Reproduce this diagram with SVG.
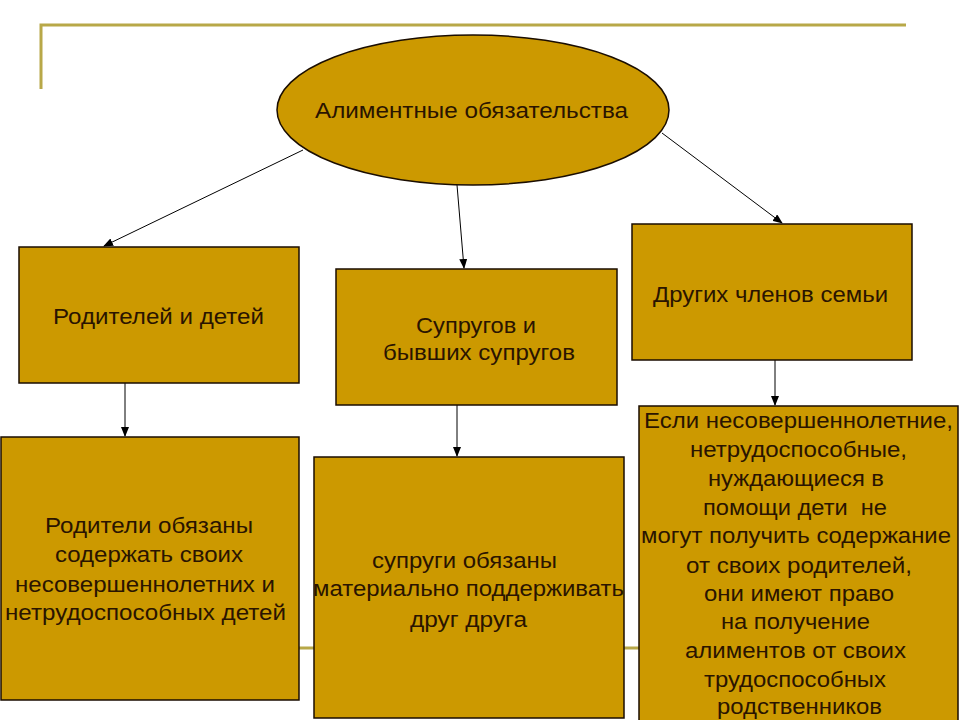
<svg xmlns="http://www.w3.org/2000/svg" width="960" height="720" viewBox="0 0 960 720">
<defs>
<style>
.box{fill:#CC9900;stroke:#1a0d00;stroke-width:1.5}
.t{font-family:"Liberation Sans",Arial,sans-serif;font-size:22px;fill:#2a1400}
.c{stroke:#000;stroke-width:1;fill:none}
.deco{stroke:#b8a848;stroke-width:3;fill:none}
</style>
<marker id="ah" markerWidth="10" markerHeight="8" refX="9" refY="4" orient="auto" markerUnits="userSpaceOnUse">
<path d="M0,0 L10,4 L0,8 Z" fill="#000"/>
</marker>
</defs>
<rect width="960" height="720" fill="#fff"/>
<g id="decor">
<path class="deco" d="M41,89 V25 H906"/>
<path class="deco" d="M41,648 H906"/>
</g>
<g id="connectors">
<line class="c" x1="303" y1="150" x2="104" y2="246" marker-end="url(#ah)"/>
<line class="c" x1="457" y1="185" x2="464" y2="268" marker-end="url(#ah)"/>
<line class="c" x1="662" y1="133" x2="782" y2="223" marker-end="url(#ah)"/>
<line class="c" x1="125" y1="383" x2="125" y2="436" marker-end="url(#ah)"/>
<line class="c" x1="457" y1="405" x2="457" y2="456" marker-end="url(#ah)"/>
<line class="c" x1="775" y1="360" x2="775" y2="405" marker-end="url(#ah)"/>
</g>
<g id="root">
<ellipse class="box" cx="473" cy="110" rx="196" ry="75"/>
<text class="t" x="315" y="118" textLength="313" lengthAdjust="spacingAndGlyphs">Алиментные обязательства</text>
</g>
<g id="parents">
<rect class="box" x="19" y="247" width="280" height="136"/>
<text class="t" x="53" y="324" textLength="211" lengthAdjust="spacingAndGlyphs">Родителей и детей</text>
</g>
<g id="spouses">
<rect class="box" x="336" y="269" width="281" height="136"/>
<text class="t" x="416" y="333" textLength="120" lengthAdjust="spacingAndGlyphs">Супругов и</text>
<text class="t" x="383" y="360" textLength="192" lengthAdjust="spacingAndGlyphs">бывших супругов</text>
</g>
<g id="others">
<rect class="box" x="632" y="224" width="280" height="136"/>
<text class="t" x="653" y="302" textLength="235" lengthAdjust="spacingAndGlyphs">Других членов семьи</text>
</g>
<g id="parents-duty">
<rect class="box" x="1" y="437" width="298" height="263"/>
<text class="t" x="45" y="533" textLength="208" lengthAdjust="spacingAndGlyphs">Родители обязаны</text>
<text class="t" x="55" y="562" textLength="188" lengthAdjust="spacingAndGlyphs">содержать своих</text>
<text class="t" x="15" y="592" textLength="260" lengthAdjust="spacingAndGlyphs">несовершеннолетних и</text>
<text class="t" x="5" y="620" textLength="281" lengthAdjust="spacingAndGlyphs">нетрудоспособных детей</text>
</g>
<g id="spouses-duty">
<rect class="box" x="314" y="457" width="310" height="261"/>
<text class="t" x="372" y="568" textLength="185" lengthAdjust="spacingAndGlyphs">супруги обязаны</text>
<text class="t" x="313" y="596" textLength="311" lengthAdjust="spacingAndGlyphs">материально поддерживать</text>
<text class="t" x="410" y="627" textLength="117" lengthAdjust="spacingAndGlyphs">друг друга</text>
</g>
<g id="others-duty">
<rect class="box" x="639" y="406" width="319" height="318"/>
<text class="t" x="644" y="428" textLength="309" lengthAdjust="spacingAndGlyphs">Если несовершеннолетние,</text>
<text class="t" x="690" y="457" textLength="217" lengthAdjust="spacingAndGlyphs">нетрудоспособные,</text>
<text class="t" x="708" y="486" textLength="176" lengthAdjust="spacingAndGlyphs">нуждающиеся в</text>
<text class="t" x="703" y="515" textLength="184" lengthAdjust="spacingAndGlyphs" xml:space="preserve">помощи дети  не</text>
<text class="t" x="641" y="543" textLength="310" lengthAdjust="spacingAndGlyphs">могут получить содержание</text>
<text class="t" x="686" y="573" textLength="226" lengthAdjust="spacingAndGlyphs">от своих родителей,</text>
<text class="t" x="704" y="601" textLength="190" lengthAdjust="spacingAndGlyphs">они имеют право</text>
<text class="t" x="721" y="629" textLength="149" lengthAdjust="spacingAndGlyphs">на получение</text>
<text class="t" x="685" y="658" textLength="221" lengthAdjust="spacingAndGlyphs">алиментов от своих</text>
<text class="t" x="704" y="687" textLength="182" lengthAdjust="spacingAndGlyphs">трудоспособных</text>
<text class="t" x="717" y="714" textLength="165" lengthAdjust="spacingAndGlyphs">родственников</text>
</g>
</svg>
